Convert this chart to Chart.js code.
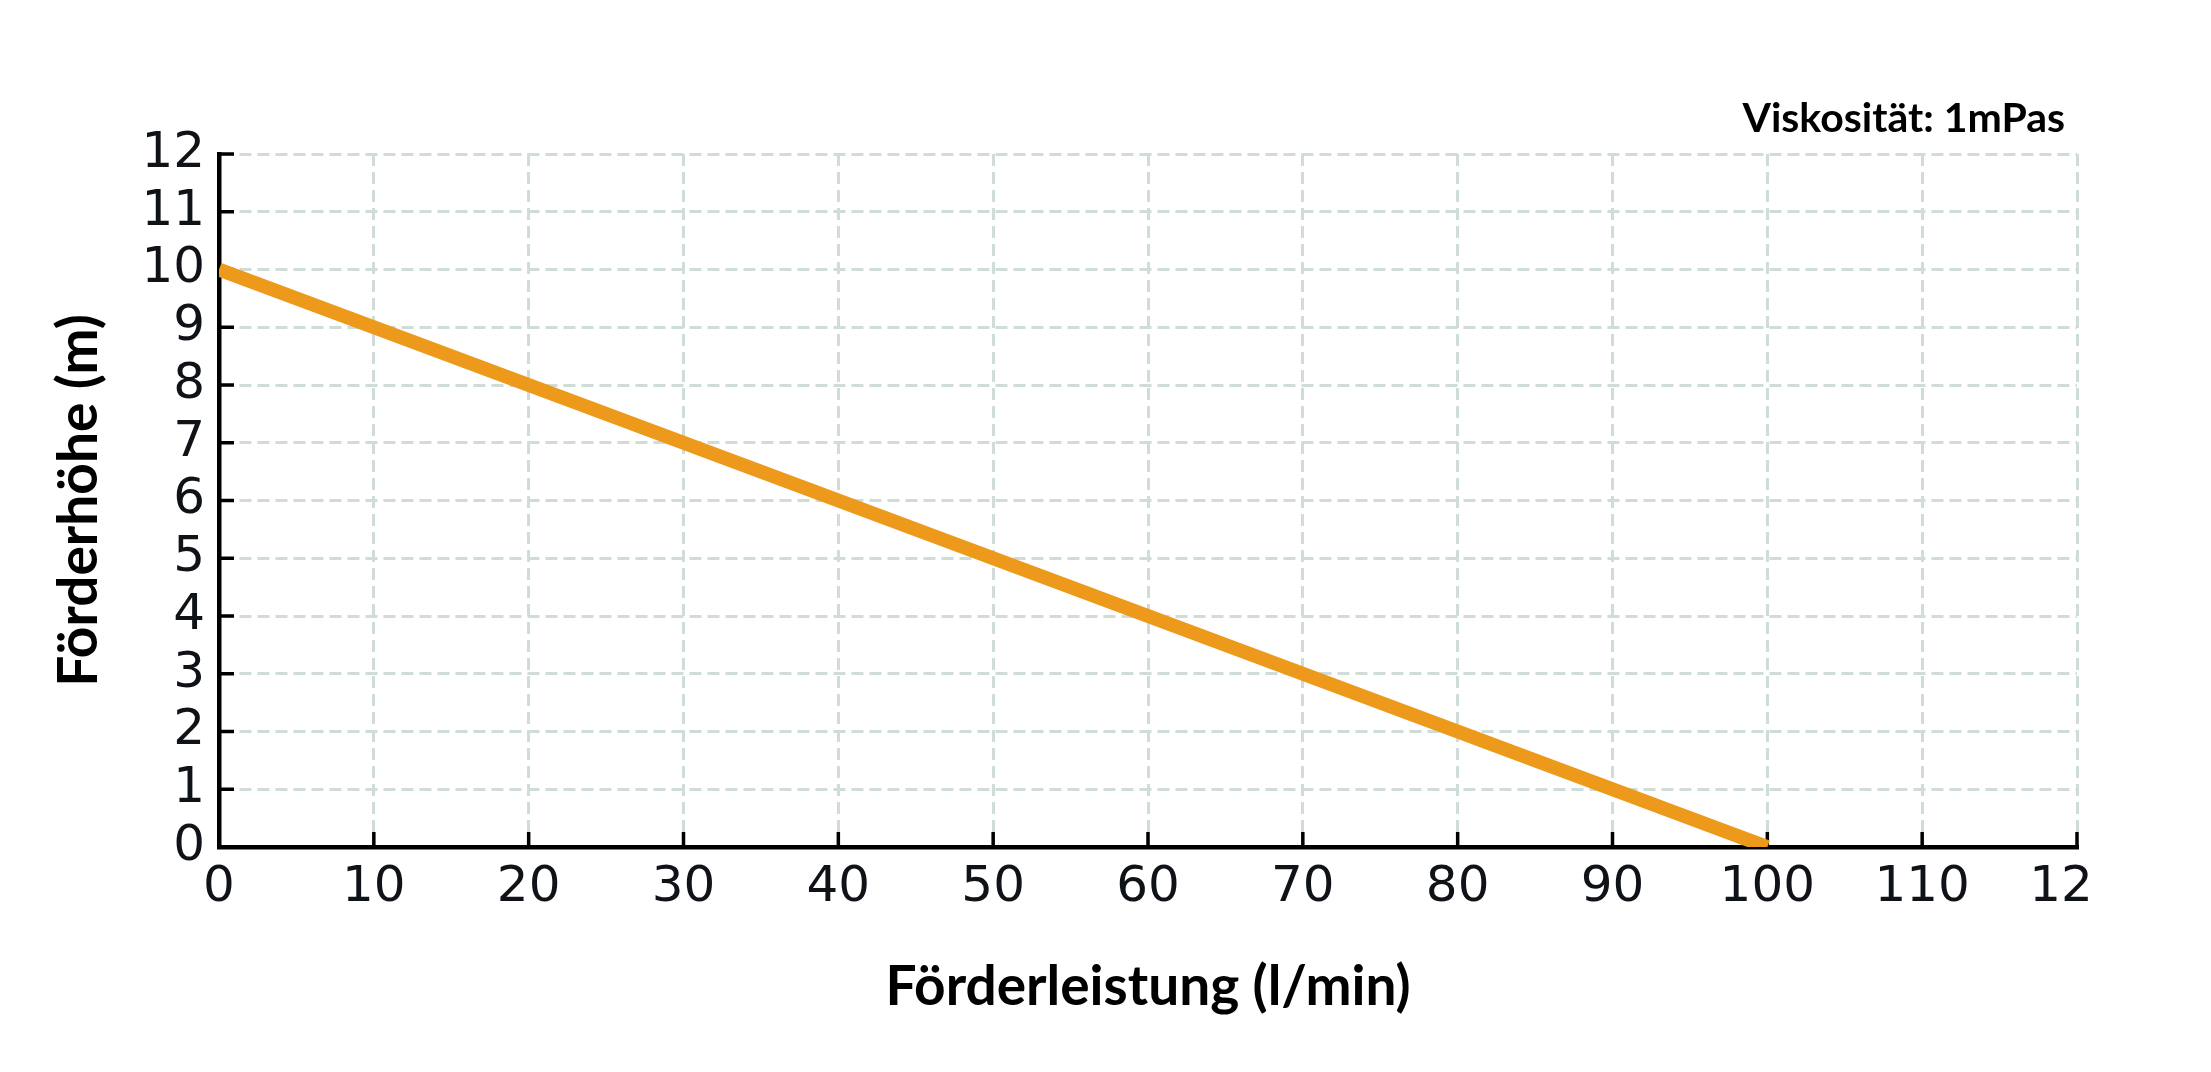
<!DOCTYPE html>
<html>
<head>
<meta charset="utf-8">
<script src="https://cdn.jsdelivr.net/npm/chart.js@4.4.1/dist/chart.umd.min.js"></script>
<style>
  body { margin: 0; background: #fff; }
  canvas { display: block; }
</style>
</head>
<body>
<canvas id="kennlinie" width="2211" height="1072"></canvas>
<script>
// Werte
const foerderleistung = [0, 10, 20, 30, 40, 50, 60, 70, 80, 90, 100];
const foerderhoehe = [10, 9, 8, 7, 6, 5, 4, 3, 2, 1, 0];
// letzte Beschriftung ist im Original abgeschnitten ("12")
const xTickLabels = ['0', '10', '20', '30', '40', '50', '60', '70', '80', '90', '100', '110', '12\u2007'];
const yTickLabels = ['0', '1', '2', '3', '4', '5', '6', '7', '8', '9', '10', '11', '12'];
const viskositaet = 'Viskosität: 1mPas';

const gridColor = '#cfdcd7';
const tickColor = '#0f1318';
const lineColor = '#ed9a1c';

const points = foerderleistung.map(function (x, i) { return { x: x, y: foerderhoehe[i] }; });

// kurze Striche nach innen + Text oben rechts
const innenTicks = {
  id: 'innenTicks',
  beforeDatasetsDraw: function (chart) {
    const ctx = chart.ctx;
    const area = chart.chartArea;
    const xs = chart.scales.x;
    const ys = chart.scales.y;
    ctx.save();
    ctx.strokeStyle = '#000';
    ctx.lineWidth = 3.5;
    ctx.beginPath();
    xs.ticks.forEach(function (t) {
      const px = xs.getPixelForValue(t.value);
      ctx.moveTo(px, area.bottom);
      ctx.lineTo(px, area.bottom - 15);
    });
    ys.ticks.forEach(function (t) {
      const py = ys.getPixelForValue(t.value);
      ctx.moveTo(area.left, py);
      ctx.lineTo(area.left + 15, py);
    });
    ctx.stroke();
    ctx.restore();
  },
  afterDraw: function (chart) {
    const ctx = chart.ctx;
    const area = chart.chartArea;
    ctx.save();
    ctx.fillStyle = '#000';
    ctx.font = 'bold 41px Lato';
    ctx.textAlign = 'right';
    ctx.textBaseline = 'alphabetic';
    ctx.fillText(viskositaet, area.right - 12, area.top - 22);
    ctx.restore();
  }
};

new Chart(document.getElementById('kennlinie').getContext('2d'), {
  type: 'line',
  data: {
    datasets: [{
      data: points,
      borderColor: lineColor,
      borderWidth: 14,
      pointRadius: 0,
      fill: false,
      tension: 0,
      clip: 0
    }]
  },
  options: {
    responsive: false,
    animation: false,
    devicePixelRatio: 1,
    layout: { padding: { left: 0, top: 154, right: 134, bottom: 0 } },
    plugins: {
      legend: { display: false },
      tooltip: { enabled: false }
    },
    scales: {
      x: {
        type: 'linear',
        min: 0,
        max: 120,
        afterFit: function (scale) { scale.height = 225; },
        ticks: {
          stepSize: 10,
          autoSkip: false,
          maxRotation: 0,
          padding: 11,
          color: tickColor,
          font: { family: 'DejaVu Sans', size: 50 },
          callback: function (v, i) { return xTickLabels[i]; }
        },
        grid: { color: gridColor, lineWidth: 3, drawTicks: false },
        border: { display: true, color: '#000', width: 4.5, dash: [12, 6] },
        title: {
          display: true,
          text: 'Förderleistung (l/min)',
          color: '#000',
          font: { family: 'Lato', weight: 'bold', size: 55 },
          padding: { top: 0, bottom: 52 }
        }
      },
      y: {
        type: 'linear',
        min: 0,
        max: 12,
        afterFit: function (scale) { scale.width = 219; },
        ticks: {
          stepSize: 1,
          autoSkip: false,
          padding: 14,
          color: tickColor,
          font: { family: 'DejaVu Sans', size: 50 },
          callback: function (v, i) { return yTickLabels[i]; }
        },
        grid: { color: gridColor, lineWidth: 3, drawTicks: false },
        border: { display: true, color: '#000', width: 4.5, dash: [12, 6] },
        title: {
          display: true,
          text: 'Förderhöhe (m)',
          color: '#000',
          font: { family: 'Lato', weight: 'bold', size: 55 },
          padding: { top: 46, bottom: 0 }
        }
      }
    }
  },
  plugins: [innenTicks]
});
</script>
</body>
</html>
